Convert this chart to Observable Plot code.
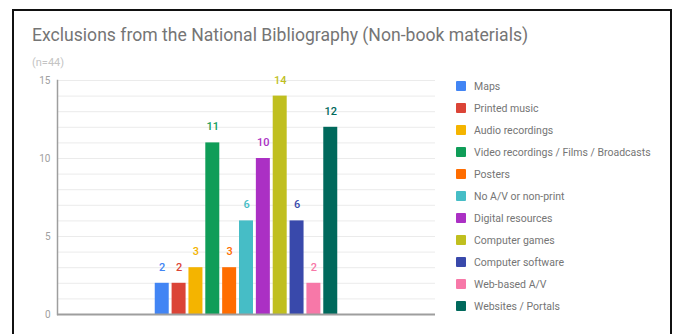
<!DOCTYPE html>
<html>
<head>
<meta charset="utf-8">
<script src="https://cdn.jsdelivr.net/npm/d3@7"></script>
<script src="https://cdn.jsdelivr.net/npm/@observablehq/plot@0.6"></script>
<style>
  body { margin: 0; background: #fff; font-family: Roboto, "Noto Sans", sans-serif; }
  #wrap { position: relative; width: 674px; height: 334px; overflow: hidden; background: #fff; }
  #frame { position: absolute; left: 12px; top: 9px; width: 656px; height: 340px; border: 2px solid #111; }
  #title { position: absolute; left: 32px; top: 25px; font-size: 17.6px; color: #757575; white-space: nowrap; }
  #subtitle { position: absolute; left: 32px; top: 56px; font-size: 11px; color: #c4c4c4; white-space: nowrap; }
  #chart { position: absolute; left: 0; top: 0; }
  #legend { position: absolute; left: 456px; top: 75px; }
  .item { display: flex; align-items: center; height: 22px; font-size: 10.5px; color: #757575; white-space: nowrap; }
  .sw { width: 10px; height: 10px; margin-right: 8px; border-radius: 1px; }
</style>
</head>
<body>
<div id="wrap">
  <div id="frame"></div>
  <div id="title">Exclusions from the National Bibliography (Non-book materials)</div>
  <div id="subtitle">(n=44)</div>
  <div id="chart"></div>
  <div id="legend"></div>
</div>
<script>
// Material types and how many libraries exclude each one
const categories = [
  "Maps",
  "Printed music",
  "Audio recordings",
  "Video recordings / Films / Broadcasts",
  "Posters",
  "No A/V or non-print",
  "Digital resources",
  "Computer games",
  "Computer software",
  "Web-based A/V",
  "Websites / Portals"
];
const counts = [2, 2, 3, 11, 3, 6, 10, 14, 6, 2, 12];
const colors = [
  "#4285f4", "#db4437", "#f4b400", "#0f9d58", "#ff6d00", "#46bdc6",
  "#ab30c4", "#c0bf1f", "#3949ab", "#f778a8", "#00695c"
];
const yTicks = [0, 5, 10, 15];
const gridLines = [1, 2, 3, 4, 5, 6, 7, 8, 9, 10, 11, 12, 13, 14, 15];

const rows = categories.map((category, i) => ({ category, count: counts[i] }));

const chart = Plot.plot({
  width: 674,
  height: 334,
  marginLeft: 57,
  marginRight: 239,
  marginTop: 80,
  marginBottom: 20,
  style: { fontFamily: "Roboto, sans-serif", fontSize: "10px", color: "#a0a0a0", background: "transparent" },
  x: { domain: categories, paddingInner: 0.17, paddingOuter: 5.8, round: false, axis: null },
  y: { domain: [0, 15], ticks: yTicks, tickSize: 0, tickPadding: 7, label: null },
  color: { domain: categories, range: colors },
  marks: [
    Plot.ruleY(gridLines, { stroke: "#ebebeb", strokeWidth: 1 }),
    Plot.barY(rows, { x: "category", y: "count", fill: "category" }),
    Plot.text(rows, {
      x: "category", y: "count", text: d => String(d.count),
      fill: "category", dy: -16, fontSize: 11, fontWeight: 500
    }),
    Plot.frame({ anchor: "left", stroke: "#9e9e9e", strokeWidth: 1.5 }),
    Plot.ruleY([0], { stroke: "#9e9e9e", strokeWidth: 2 })
  ]
});
document.getElementById("chart").append(chart);

// Legend column built from the same categories and colours
const legend = d3.select("#legend");
categories.forEach((c, i) => {
  const item = legend.append("div").attr("class", "item");
  item.append("div").attr("class", "sw").style("background", colors[i]);
  item.append("span").text(c);
});
</script>
</body>
</html>
